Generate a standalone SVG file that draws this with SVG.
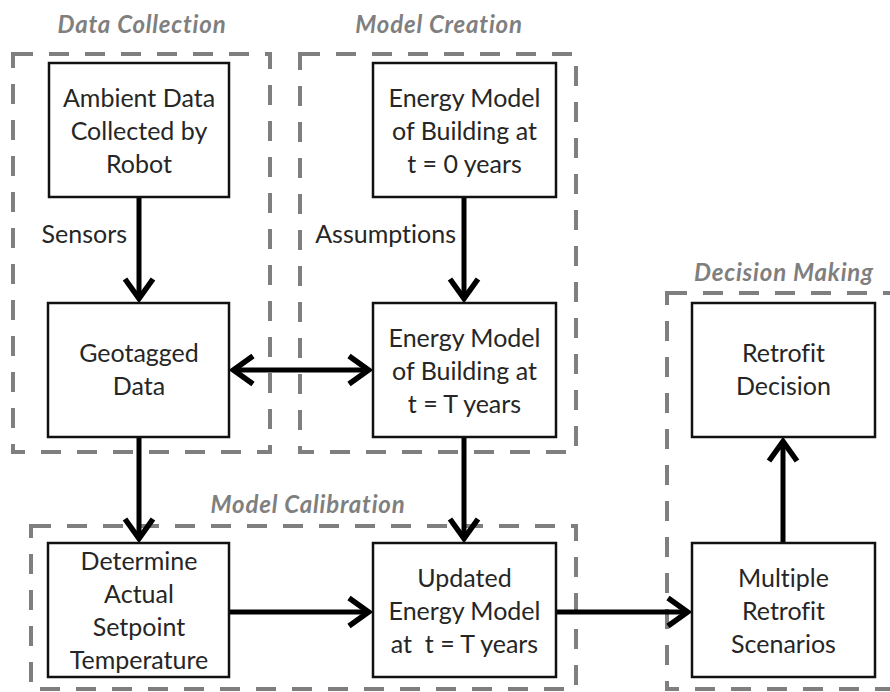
<svg xmlns="http://www.w3.org/2000/svg" width="890" height="692" viewBox="0 0 890 692">
  <style>
    text { font-variant-ligatures: none; }
    .stage { fill: none; stroke: #7f7f7f; stroke-width: 4; stroke-dasharray: 20 16; }
    .stage-title { font-family: Lato, "Liberation Sans", sans-serif; font-size: 24px; letter-spacing: 0.8px; font-weight: bold; font-style: italic; fill: #7f7f7f; text-anchor: middle; }
    .box { fill: #ffffff; stroke: #111111; stroke-width: 2.5; }
    .label { font-family: Lato, "Liberation Sans", sans-serif; font-size: 25px; fill: #262626; text-anchor: middle; }
    .edge-label { font-family: Lato, "Liberation Sans", sans-serif; font-size: 25px; fill: #262626; text-anchor: end; }
    .flow { fill: none; stroke: #000000; stroke-width: 5; }
  </style>
  <defs>
    <marker id="chevron" markerUnits="userSpaceOnUse" orient="auto-start-reverse" refX="0" refY="0" markerWidth="40" markerHeight="40" viewBox="-30 -20 40 40" overflow="visible">
      <path d="M-18,-14 L1.6,0 L-18,14" fill="none" stroke="#000000" stroke-width="5.5" stroke-linejoin="miter"/>
    </marker>
  </defs>

  <rect width="890" height="692" fill="#ffffff"/>

  <!-- stage outlines -->
  <g id="stages">
    <rect class="stage" x="13" y="54" width="257" height="398"/>
    <rect class="stage" x="300" y="54" width="276" height="398"/>
    <rect class="stage" x="31" y="526" width="545" height="163"/>
    <rect class="stage" x="667" y="293" width="240" height="396"/>
    <text class="stage-title" x="142" y="33">Data Collection</text>
    <text class="stage-title" x="439" y="33">Model Creation</text>
    <text class="stage-title" x="308" y="513">Model Calibration</text>
    <text class="stage-title" x="784" y="281">Decision Making</text>
  </g>

  <!-- connectors -->
  <g id="connectors">
    <line class="flow" x1="139" y1="197" x2="139" y2="297" marker-end="url(#chevron)"/>
    <line class="flow" x1="464" y1="197" x2="464" y2="297" marker-end="url(#chevron)"/>
    <line class="flow" x1="235" y1="370" x2="367" y2="370" marker-start="url(#chevron)" marker-end="url(#chevron)"/>
    <line class="flow" x1="139" y1="437" x2="139" y2="537" marker-end="url(#chevron)"/>
    <line class="flow" x1="464" y1="437" x2="464" y2="537" marker-end="url(#chevron)"/>
    <line class="flow" x1="229" y1="612" x2="367" y2="612" marker-end="url(#chevron)"/>
    <line class="flow" x1="556" y1="612" x2="686" y2="612" marker-end="url(#chevron)"/>
    <line class="flow" x1="783" y1="543" x2="783" y2="443" marker-end="url(#chevron)"/>
    <text class="edge-label" x="127" y="243">Sensors</text>
    <text class="edge-label" x="456" y="243">Assumptions</text>
  </g>

  <!-- nodes -->
  <g id="ambient-data">
    <rect class="box" x="49" y="63" width="180" height="134"/>
    <text class="label" x="139" y="107">Ambient Data</text>
    <text class="label" x="139" y="140">Collected by</text>
    <text class="label" x="139" y="173">Robot</text>
  </g>
  <g id="model-t0">
    <rect class="box" x="373" y="63" width="183" height="134"/>
    <text class="label" x="464.5" y="107">Energy Model</text>
    <text class="label" x="464.5" y="140">of Building at</text>
    <text class="label" x="464.5" y="173">t = 0 years</text>
  </g>
  <g id="geotagged-data">
    <rect class="box" x="48" y="303" width="181" height="134"/>
    <text class="label" x="139" y="362">Geotagged</text>
    <text class="label" x="139" y="395">Data</text>
  </g>
  <g id="model-tT">
    <rect class="box" x="373" y="303" width="183" height="134"/>
    <text class="label" x="464.5" y="347">Energy Model</text>
    <text class="label" x="464.5" y="380">of Building at</text>
    <text class="label" x="464.5" y="413">t = T years</text>
  </g>
  <g id="setpoint">
    <rect class="box" x="48" y="543" width="181" height="134"/>
    <text class="label" x="139" y="570">Determine</text>
    <text class="label" x="139" y="603">Actual</text>
    <text class="label" x="139" y="636">Setpoint</text>
    <text class="label" x="139" y="669">Temperature</text>
  </g>
  <g id="updated-model">
    <rect class="box" x="373" y="543" width="183" height="134"/>
    <text class="label" x="464.5" y="587">Updated</text>
    <text class="label" x="464.5" y="620">Energy Model</text>
    <text class="label" x="464.5" y="653" xml:space="preserve">at  t = T years</text>
  </g>
  <g id="retrofit-decision">
    <rect class="box" x="692" y="303" width="183" height="134"/>
    <text class="label" x="783.5" y="362">Retrofit</text>
    <text class="label" x="783.5" y="395">Decision</text>
  </g>
  <g id="retrofit-scenarios">
    <rect class="box" x="692" y="543" width="183" height="134"/>
    <text class="label" x="783.5" y="587">Multiple</text>
    <text class="label" x="783.5" y="620">Retrofit</text>
    <text class="label" x="783.5" y="653">Scenarios</text>
  </g>
</svg>
